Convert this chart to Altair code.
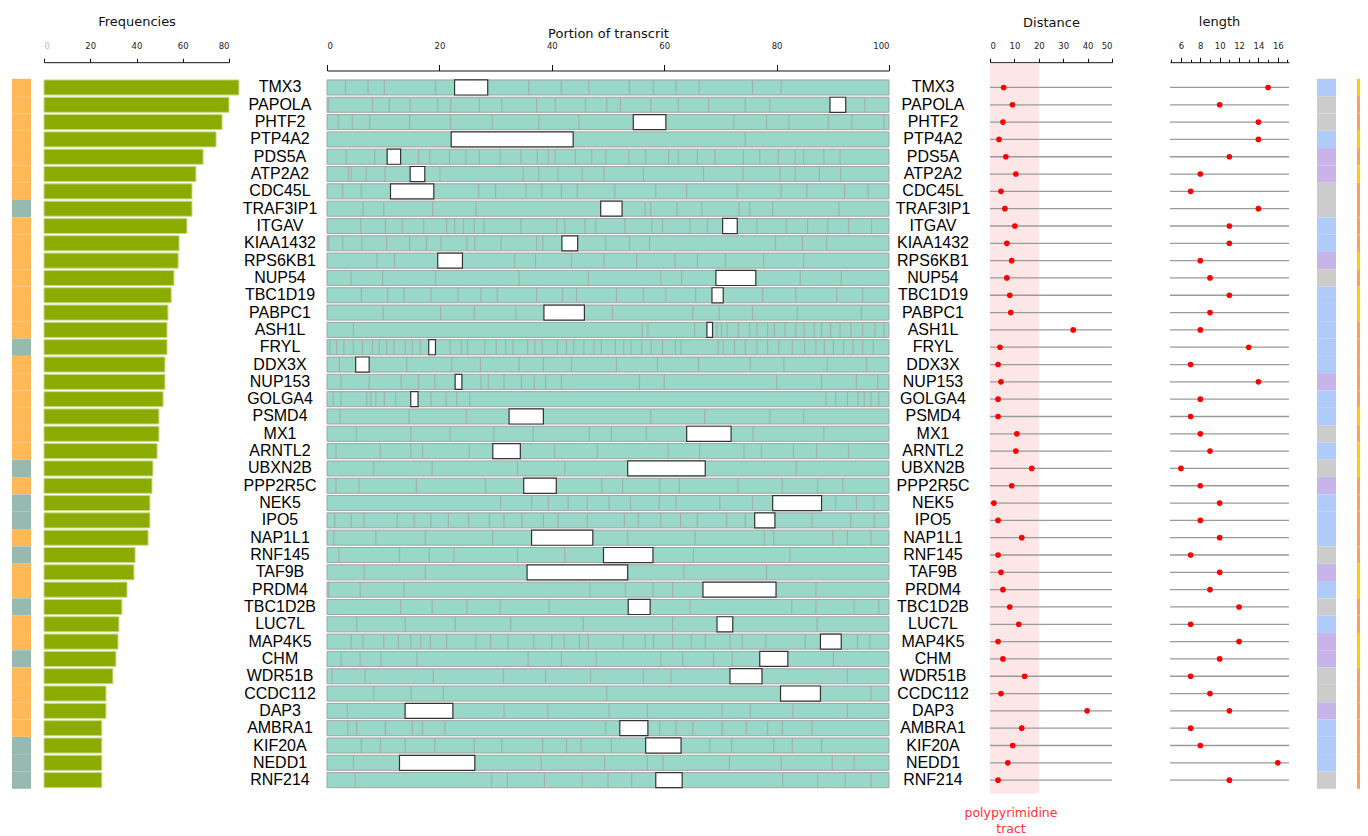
import altair as alt
import pandas as pd

genes = ["TMX3", "PAPOLA", "PHTF2", "PTP4A2", "PDS5A", "ATP2A2", "CDC45L", "TRAF3IP1",
         "ITGAV", "KIAA1432", "RPS6KB1", "NUP54", "TBC1D19", "PABPC1", "ASH1L", "FRYL",
         "DDX3X", "NUP153", "GOLGA4", "PSMD4", "MX1", "ARNTL2", "UBXN2B", "PPP2R5C",
         "NEK5", "IPO5", "NAP1L1", "RNF145", "TAF9B", "PRDM4", "TBC1D2B", "LUC7L",
         "MAP4K5", "CHM", "WDR51B", "CCDC112", "DAP3", "AMBRA1", "KIF20A", "NEDD1", "RNF214"]

frequency = [84.3, 80.0, 77.0, 74.4, 68.8, 65.7, 64.0, 64.0, 61.8, 58.4, 58.0, 56.2, 55.0,
             53.6, 53.2, 53.2, 52.3, 52.3, 51.5, 49.7, 49.7, 48.9, 47.1, 46.7, 45.8, 45.8,
             45.0, 39.4, 38.9, 35.9, 33.7, 32.4, 32.0, 31.1, 29.8, 26.8, 26.8, 25.0, 25.0,
             25.0, 25.0]

freq_group = ["a", "a", "a", "a", "a", "a", "a", "b", "a", "a", "a", "a", "a", "a", "a", "b",
              "a", "a", "a", "a", "a", "a", "b", "a", "b", "b", "a", "b", "a", "a", "b", "a",
              "a", "b", "a", "a", "a", "a", "b", "b", "b"]

white_start = [22.7, 89.5, 54.5, 22.1, 10.7, 14.8, 11.3, 48.7, 70.4, 41.8, 19.7, 69.2, 68.5,
               38.6, 67.6, 18.1, 5.1, 22.8, 14.9, 32.4, 64.0, 29.5, 53.5, 35.0, 79.3, 76.1,
               36.4, 49.2, 35.6, 66.9, 53.6, 69.4, 87.8, 77.0, 71.7, 80.7, 13.9, 52.1, 56.7,
               12.9, 58.5]
white_end = [28.6, 92.3, 60.3, 43.8, 13.1, 17.4, 19.0, 52.5, 73.0, 44.6, 24.1, 76.3, 70.5,
             45.8, 68.6, 19.3, 7.5, 24.0, 16.2, 38.5, 71.9, 34.4, 67.3, 40.8, 88.0, 79.7,
             47.3, 58.0, 53.5, 79.9, 57.5, 72.2, 91.5, 82.0, 77.4, 87.8, 22.4, 57.1, 63.0,
             26.3, 63.2]

exon_breaks = [
    [3.3, 7.3, 10.2, 19.3, 35.9, 41.7, 46.6, 53.8, 58.1, 62.1, 66.2, 75.7, 80.8],
    [0.3, 8.1, 11.1, 14.8, 19.7, 22.0, 27.1, 31.1, 37.3, 40.6, 46.0, 49.8, 52.2, 57.6, 62.5, 67.9, 74.4, 78.8, 95.7],
    [2.0, 4.5, 7.6, 14.7, 22.0, 29.4, 37.7, 44.8, 72.4, 78.2, 82.2, 89.2, 93.4, 99.1],
    [74.4],
    [3.4, 8.5, 16.3, 18.3, 21.8, 24.7, 27.1, 30.8, 34.5, 37.4, 39.4, 40.6, 44.2, 47.1, 49.6, 53.7, 56.7, 60.8, 62.5, 65.9, 69.0, 74.1, 77.0, 80.3, 83.3, 84.8, 88.4, 91.3],
    [3.8, 4.3, 7.0, 10.3, 20.1, 34.9, 37.7, 41.1, 45.4, 49.3, 56.3, 67.0, 74.0, 80.6, 83.3, 87.6, 91.4],
    [2.8, 6.1, 27.0, 30.0, 35.4, 38.2, 41.7, 44.5, 51.2, 58.5, 64.0, 73.0, 80.8, 85.4, 92.1, 96.3],
    [6.4, 10.1, 18.8, 26.5, 56.6, 57.6, 62.3, 66.7, 73.3, 75.2, 79.3, 91.1],
    [6.0, 10.4, 13.4, 17.2, 21.3, 22.7, 24.3, 26.2, 27.9, 34.5, 40.9, 42.3, 45.9, 47.8, 53.0, 57.8, 59.7, 64.6, 67.7, 76.5, 81.7, 85.5, 89.1, 92.8, 96.9],
    [0.3, 2.8, 6.2, 10.6, 14.7, 17.7, 20.3, 24.9, 26.3, 31.0, 37.3, 38.4, 49.6, 53.8, 57.4, 79.8, 84.6, 88.9],
    [8.9, 12.0, 33.4, 37.1, 43.5, 49.3, 55.1, 61.9, 65.9, 70.9, 77.7, 84.8],
    [4.3, 9.9, 19.3, 34.2, 46.5, 59.4, 63.1, 84.2, 91.5],
    [6.1, 10.8, 13.7, 18.5, 23.3, 27.4, 30.3, 37.3, 41.9, 44.4, 51.5, 56.3, 60.3, 65.6, 77.5, 83.4, 90.7, 95.3],
    [10.0, 20.2, 26.2, 33.6, 50.8, 65.1, 69.8, 75.7, 83.7, 95.1],
    [4.7, 56.1, 57.1, 65.4, 69.4, 70.2, 71.2, 73.2, 75.2, 76.5, 78.4, 79.6, 81.5, 83.4, 84.9, 86.7, 88.0, 89.6, 91.3, 93.2, 95.3, 97.5, 99.1],
    [0.5, 1.7, 3.0, 4.7, 6.3, 8.1, 9.3, 10.6, 11.9, 13.9, 15.2, 16.6, 21.9, 23.9, 25.0, 28.1, 30.1, 31.8, 33.1, 35.7, 37.0, 38.3, 41.0, 42.6, 43.9, 45.7, 47.5, 48.8, 51.3, 52.8, 54.1, 56.0, 57.7, 59.7, 62.0, 63.0, 69.6, 70.5, 72.5, 74.4, 76.5, 78.4, 80.4, 82.8, 85.0, 87.0, 88.5, 90.1, 91.9, 93.6, 95.3, 97.2],
    [2.2, 14.2, 22.2, 27.3, 34.2, 38.5, 43.5, 51.5, 58.8, 66.1, 75.3, 81.3, 89.0, 96.0],
    [2.5, 7.5, 13.2, 16.3, 19.2, 27.4, 28.7, 31.5, 34.6, 36.9, 38.9, 41.7, 55.6, 60.0, 80.0, 88.0, 94.2, 98.0],
    [1.1, 2.5, 7.1, 7.8, 8.7, 10.2, 12.2, 18.5, 21.2, 23.1, 25.4, 88.8, 90.5, 92.6, 94.5, 95.6, 96.8, 98.2],
    [2.3, 14.6, 24.8, 57.6, 67.2, 78.8, 84.8],
    [5.2, 14.9, 21.9, 29.7, 36.7, 46.7, 50.6, 56.8, 75.8, 88.4],
    [1.6, 9.5, 14.9, 17.0, 25.3, 40.5, 48.1, 60.7, 66.3, 74.2, 77.3, 83.0, 87.1, 92.8],
    [8.3, 18.7, 33.9, 42.3, 83.5],
    [1.6, 5.7, 15.9, 28.2, 48.9, 52.6, 59.2, 62.7, 73.1, 81.0, 87.3, 91.8],
    [30.9, 36.4, 39.4, 42.9, 46.3, 50.2, 54.0, 59.1, 62.1, 69.9, 75.7, 90.5, 94.2, 97.3],
    [1.4, 4.3, 6.6, 12.5, 15.5, 18.5, 21.6, 25.2, 28.9, 31.5, 34.7, 38.5, 41.1, 46.3, 52.9, 55.4, 59.4, 62.9, 65.9, 71.1, 74.4, 86.3, 93.2, 97.4],
    [1.2, 8.7, 17.5, 29.5, 53.5, 65.5, 77.8, 79.5, 90.0, 92.6, 96.8],
    [2.1, 12.9, 18.2, 22.6, 33.9, 42.3, 65.2, 82.4],
    [6.6, 17.5, 63.5, 78.2],
    [0.3, 5.9, 13.7, 46.8, 53.1, 58.0, 61.5, 87.0],
    [13.1, 18.7, 24.9, 30.8, 39.5, 64.6, 82.7, 87.0, 93.8, 98.2],
    [5.3, 13.9, 22.8, 32.7, 45.6, 61.5, 87.2],
    [4.3, 6.4, 10.1, 12.7, 14.9, 16.7, 18.4, 21.3, 26.5, 29.1, 32.2, 36.8, 40.0, 42.2, 44.9, 46.5, 52.7, 56.6, 58.1, 61.5, 64.8, 67.3, 71.7, 73.9, 78.1, 85.1, 94.4, 96.6],
    [2.5, 5.9, 9.6, 16.0, 35.8, 41.7, 47.9, 59.4, 63.3, 68.8, 72.1, 90.1],
    [0.9, 6.8, 18.9, 31.4, 38.9, 46.9, 56.3, 61.2, 92.6],
    [8.3, 15.0, 20.7, 49.8, 96.8],
    [3.6, 31.5, 39.3, 50.2, 57.0, 70.3, 75.3, 82.9, 92.6],
    [3.7, 5.3, 10.4, 15.2, 17.0, 21.0, 49.6, 59.2, 62.1, 65.1, 70.3, 74.6, 78.4, 81.0, 86.3],
    [6.1, 9.5, 13.9, 19.2, 26.2, 31.1, 38.4, 42.6, 45.2, 50.6, 68.1, 72.0, 79.5, 82.8, 88.0],
    [4.7, 38.1, 49.4, 57.0, 59.8, 71.6, 80.8, 89.9, 93.8],
    [5.0, 29.3, 32.1, 38.7, 45.4, 50.0, 54.2, 81.1, 87.3, 92.2, 96.8],
]

distance = [5.6, 9.2, 5.3, 3.7, 6.5, 10.6, 4.5, 6.1, 10.2, 6.9, 8.9, 6.9, 8.1, 8.5, 34.1,
            4.1, 3.3, 4.5, 3.3, 3.3, 11.0, 10.6, 17.1, 8.9, 1.6, 3.3, 13.0, 3.3, 4.5, 5.3,
            8.1, 11.8, 3.3, 5.3, 14.2, 4.5, 39.8, 13.0, 9.3, 7.3, 3.3]

length = [15, 10, 14, 14, 11, 8, 7, 14, 11, 11, 8, 9, 11, 9, 8, 13, 7, 14, 8, 7, 8, 9, 6, 8,
          10, 8, 10, 7, 10, 9, 12, 7, 12, 10, 7, 9, 11, 7, 8, 16, 11]

class_a = ["blue", "grey", "grey", "blue", "purple", "purple", "grey", "grey", "blue", "blue",
           "purple", "grey", "blue", "blue", "blue", "blue", "blue", "purple", "blue", "blue",
           "grey", "blue", "grey", "purple", "blue", "blue", "blue", "grey", "purple", "blue",
           "grey", "blue", "purple", "purple", "grey", "grey", "purple", "blue", "blue", "blue",
           "grey"]

class_b = ["gold", "orange", "orange", "gold", "orange", "gold", "orange", "orange", "orange",
           "orange", "gold", "orange", "gold", "gold", "orange", "orange", "orange", "orange",
           "orange", "gold", "orange", "gold", "gold", "orange", "orange", "orange", "orange",
           "orange", "gold", "gold", "orange", "orange", "gold", "gold", "orange", "orange",
           "orange", "orange", "orange", "orange", "orange"]

FREQ_TICKS = [0, 20, 40, 60, 80]
TRANSCRIPT_TICKS = [0, 20, 40, 60, 80, 100]
DIST_TICKS = [0, 10, 20, 30, 40, 50]
LENGTH_TICKS = list(range(5, 18))
LEN_LO, LEN_HI = 4.87, 17.16
PPT_LO, PPT_HI = 0, 20

ROW_H = 710

df = pd.DataFrame({
    "gene": genes, "frequency": frequency, "fgroup": freq_group,
    "wstart": white_start, "wend": white_end,
    "distance": distance, "length": length,
    "ca": class_a, "cb": class_b,
})
df["t0"] = 0
df["t1"] = 100
df["dlo"] = 0
df["dhi"] = 50
df["llo"] = LEN_LO
df["lhi"] = LEN_HI

rows = []
for g, br in zip(genes, exon_breaks):
    for p in br:
        rows.append({"gene": g, "pos": p})
df_breaks = pd.DataFrame(rows)

y_band = alt.Y("gene:N", sort=genes, axis=None,
               scale=alt.Scale(paddingInner=0.13, paddingOuter=0.065))
y_strip = alt.Y("gene:N", sort=genes, axis=None,
                scale=alt.Scale(paddingInner=0, paddingOuter=0))

AX = dict(orient="top", grid=False, domainColor="#111", tickColor="#111",
          labelFont="DejaVu Sans", labelFontSize=8.5,
          titleFont="DejaVu Sans", titleFontSize=13, titleFontWeight="normal",
          titleColor="#111", titleBaseline="middle", labelAngle=0, labelOverlap=False)

# left strip
p_left = alt.Chart(df).mark_rect().encode(
    x=alt.value(0), x2=alt.value(19), y=y_strip,
    color=alt.Color("fgroup:N", legend=None,
                    scale=alt.Scale(domain=["a", "b"], range=["#FFB957", "#97BAB0"])),
).properties(width=32, height=ROW_H)

# frequencies
p_freq = alt.Chart(df).mark_bar(color="#8BAB00", stroke="#C9DA8C", strokeWidth=1).encode(
    x=alt.X("frequency:Q",
            scale=alt.Scale(domain=[0, 80], nice=False, zero=True),
            axis=alt.Axis(values=FREQ_TICKS, title="Frequencies", offset=16.6,
                          tickSize=4, labelPadding=8, titleY=-40.7,
                          labelColor={"condition": {"test": "datum.value === 0", "value": "#9CCFC4"},
                                      "value": "#222"},
                          **AX)),
    y=y_band,
).properties(width=185, height=ROW_H)

# labels left
p_lab1 = alt.Chart(df).mark_text(font="Liberation Sans", fontSize=16, align="center",
                                 baseline="middle", color="#000").encode(
    x=alt.value(51), y=y_band, text="gene:N",
).properties(width=98, height=ROW_H)

# transcript
xs_t = alt.Scale(domain=[0, 100], nice=False)
ax_t = alt.Axis(values=TRANSCRIPT_TICKS, title="Portion of transcrit", offset=8.3,
                tickSize=6, labelPadding=14, titleY=-37, labelColor="#222", **AX)
t_bg = alt.Chart(df).mark_rect(fill="#99D8C9", stroke="#A3A3A3", strokeWidth=1).encode(
    x=alt.X("t0:Q", scale=xs_t, axis=ax_t), x2="t1:Q", y=y_band,
)
t_br = alt.Chart(df_breaks).mark_tick(color="#A3A3A3", thickness=1.2, size=15).encode(
    x=alt.X("pos:Q", scale=xs_t, axis=ax_t), y=y_band,
)
t_wb = alt.Chart(df).mark_rect(fill="white", stroke="#333", strokeWidth=1.2).encode(
    x=alt.X("wstart:Q", scale=xs_t, axis=ax_t), x2="wend:Q", y=y_band,
)
p_tr = alt.layer(t_bg, t_br, t_wb).properties(width=562, height=ROW_H)

# labels right
p_lab2 = alt.Chart(df).mark_text(font="Liberation Sans", fontSize=16, align="center",
                                 baseline="middle", color="#000").encode(
    x=alt.value(44), y=y_band, text="gene:N",
).properties(width=101, height=ROW_H)

# distance
xs_d = alt.Scale(domain=[0, 50], nice=False)
ax_d = alt.Axis(values=DIST_TICKS, title="Distance", offset=16.6,
                tickSize=4, labelPadding=8, titleY=-39.4, labelColor="#222", **AX)
ppt = pd.DataFrame({"a": [PPT_LO], "b": [PPT_HI]})
d_band = alt.Chart(ppt).mark_rect(color="#FDE6E6").encode(
    x=alt.X("a:Q", scale=xs_d, axis=ax_d),
    x2="b:Q", y=alt.value(-15), y2=alt.value(ROW_H + 5),
)
d_rule = alt.Chart(df).mark_rule(color="#9A9A9A", strokeWidth=1.3).encode(
    x=alt.X("dlo:Q", scale=xs_d, axis=ax_d), x2="dhi:Q", y=y_band,
)
d_pt = alt.Chart(df).mark_circle(color="#FF0000", size=32, opacity=1).encode(
    x=alt.X("distance:Q", scale=xs_d, axis=ax_d), y=y_band,
)
ann = pd.DataFrame({"x": [8.6], "t": ["polypyrimidine\ntract"]})
d_txt = alt.Chart(ann).mark_text(color="#FF3333", fontSize=12.5, font="DejaVu Sans",
                                 lineBreak="\n", baseline="top", align="center",
                                 lineHeight=16).encode(
    x=alt.X("x:Q", scale=xs_d, axis=ax_d), y=alt.value(ROW_H + 18), text="t:N",
)
p_dist = alt.layer(d_band, d_rule, d_pt, d_txt).properties(width=122, height=ROW_H)

# length
xs_l = alt.Scale(domain=[LEN_LO, LEN_HI], nice=False, zero=False, range=[58, 177])
ax_l = alt.Axis(values=LENGTH_TICKS, title="length", offset=16.6,
                tickSize={"condition": {"test": "datum.value % 2 === 0", "value": 5},
                          "value": 3},
                labelExpr="(datum.value % 2 === 0 && datum.value >= 6 && datum.value <= 16) ? datum.label : ''",
                labelPadding=7, titleY=-40.7, titleX=107, labelColor="#222", **AX)
l_rule = alt.Chart(df).mark_rule(color="#9A9A9A", strokeWidth=1.3).encode(
    x=alt.X("llo:Q", scale=xs_l, axis=ax_l), x2="lhi:Q", y=y_band,
)
l_pt = alt.Chart(df).mark_circle(color="#FF0000", size=32, opacity=1).encode(
    x=alt.X("length:Q", scale=xs_l, axis=ax_l), y=y_band,
)
p_len = alt.layer(l_rule, l_pt).properties(width=205, height=ROW_H)

# right strips
p_ca = alt.Chart(df).mark_rect().encode(
    x=alt.value(0), x2=alt.value(19), y=y_strip,
    color=alt.Color("ca:N", legend=None,
                    scale=alt.Scale(domain=["blue", "grey", "purple"],
                                    range=["#AECBFA", "#CCCCCC", "#C8B4E8"])),
).properties(width=40, height=ROW_H)

p_cb = alt.Chart(df).mark_rect().encode(
    x=alt.value(0), x2=alt.value(3), y=y_strip,
    color=alt.Color("cb:N", legend=None,
                    scale=alt.Scale(domain=["gold", "orange"], range=["#FFCC00", "#FF9E5E"])),
).properties(width=3, height=ROW_H)

chart = alt.HConcatChart(
    hconcat=[p_left, p_freq, p_lab1, p_tr, p_lab2, p_dist, p_len, p_ca, p_cb],
    spacing=0, bounds="flush",
).resolve_scale(x="independent", y="independent", color="independent").properties(
    padding={"left": 4, "top": 6.8, "right": 0, "bottom": 0}
).configure_view(stroke=None).configure_axis(labelOverlap=False)

chart.save("out.html", embed_options={"renderer": "svg", "actions": False})
